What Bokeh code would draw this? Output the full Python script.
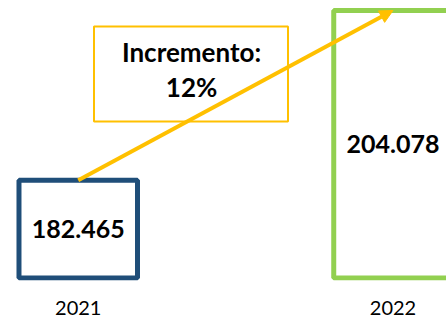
from bokeh.plotting import figure
from bokeh.models import Range1d, FixedTicker, Arrow, NormalHead, BoxAnnotation, Label, ColumnDataSource
from bokeh.core.properties import value
from bokeh.embed import file_html
from bokeh.resources import INLINE

years = ["2021", "2022"]
values = [182.465, 204.078]
value_labels = ["182.465", "204.078"]
colors = ["#1F4E79", "#92D050"]
baseline = 170.0

pct = round((values[1] / values[0] - 1) * 100)

xs = list(range(len(years)))
mids = [(baseline + v) / 2 for v in values]
heights = [v - baseline for v in values]

src = ColumnDataSource(dict(x=xs, top=values, color=colors, mid=mids, h=heights, lab=value_labels))

p = figure(width=446, height=320, output_backend="svg", toolbar_location=None,
           x_range=Range1d(-0.2470, 1.170), y_range=Range1d(169.68, 205.35),
           min_border_left=0, min_border_right=0, min_border_top=0, min_border_bottom=40)
p.outline_line_color = None
p.background_fill_color = "white"
p.xgrid.visible = False
p.ygrid.visible = False
p.yaxis.visible = False

p.xaxis.ticker = FixedTicker(ticks=xs)
p.xaxis.major_label_overrides = {i: y for i, y in enumerate(years)}
p.xaxis.axis_line_color = None
p.xaxis.major_tick_line_color = None
p.xaxis.minor_tick_line_color = None
p.xaxis.major_label_text_font = "Lato"
p.xaxis.major_label_text_font_size = "20px"
p.xaxis.major_label_text_color = "#000000"
p.xaxis.major_label_standoff = 14

p.rect(x="x", y="mid", width=0.3765, height="h", source=src,
       fill_color=None, line_color="color", line_width=5)

p.text(x="x", y="mid", text="lab", source=src, text_align="center", text_baseline="middle",
       text_font=value("Lato"), text_font_style="bold", text_font_size="25px", text_color="#000000")

box = BoxAnnotation(left=0.050, right=0.6664, top=202.04, bottom=189.94,
                    fill_color=None, fill_alpha=0, line_color="#FFC000", line_alpha=1.0, line_width=2)
p.add_layout(box)

p.add_layout(Arrow(end=NormalHead(size=13, fill_color="#FFC000", line_color="#FFC000"),
                   x_start=xs[0], y_start=values[0], x_end=xs[1], y_end=values[1],
                   line_color="#FFC000", line_width=4))

p.add_layout(Label(x=0.36, y=198.85, text="Incremento:", text_align="center", text_baseline="middle",
                   text_font="Lato", text_font_style="bold", text_font_size="26px", text_color="#000000"))
p.add_layout(Label(x=0.36, y=194.35, text=f"{pct}%", text_align="center", text_baseline="middle",
                   text_font="Lato", text_font_style="bold", text_font_size="26px", text_color="#000000"))

open("out.html", "w").write(file_html(p, INLINE))
